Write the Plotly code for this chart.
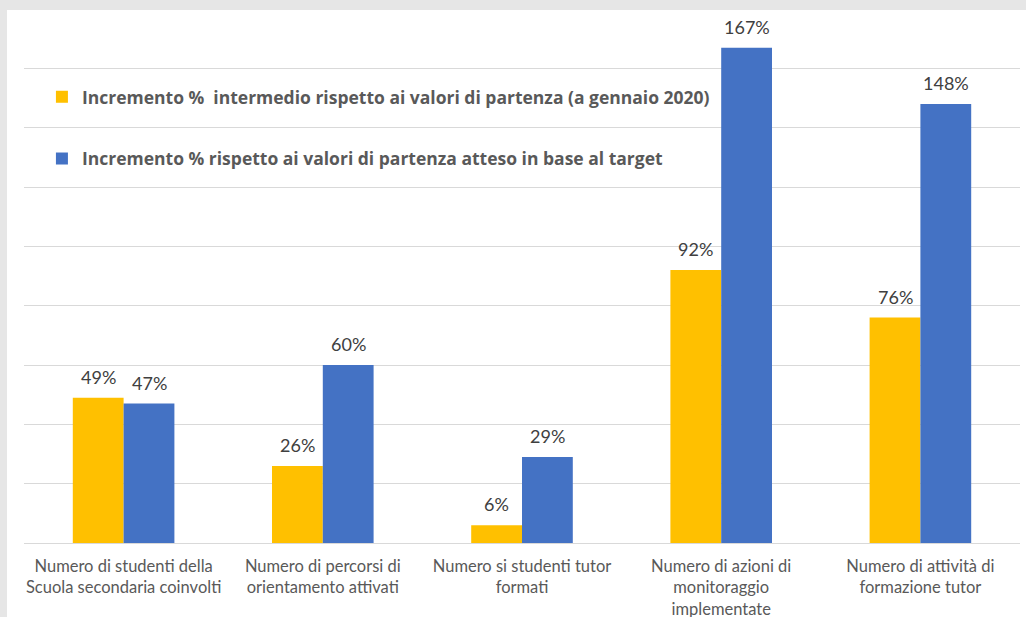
import plotly.graph_objects as go

categories = [
    "Numero di studenti della<br>Scuola secondaria coinvolti",
    "Numero di percorsi di<br>orientamento attivati",
    "Numero si studenti tutor<br>formati",
    "Numero di azioni di<br>monitoraggio<br>implementate",
    "Numero di attività di<br>formazione tutor",
]
series_names = [
    "Incremento %  intermedio rispetto ai valori di partenza (a gennaio 2020)",
    "Incremento % rispetto ai valori di partenza atteso in base al target",
]
intermedio = [49, 26, 6, 92, 76]
atteso = [47, 60, 29, 167, 148]
colors = ["#FFC000", "#4472C4"]

FONT = "Lato"
idx = list(range(len(categories)))
bargap = 0.49
half = (1 - bargap) / 4  # center offset of each bar in the group

fig = go.Figure()
for k, (name, vals) in enumerate(zip(series_names, [intermedio, atteso])):
    fig.add_trace(go.Bar(
        x=idx, y=vals, name=name, marker_color=colors[k],
        marker_line_width=0, legendgroup=f"g{k}",
    ))

annotations = []
for k, vals in enumerate([intermedio, atteso]):
    off = -half if k == 0 else half
    for i, v in zip(idx, vals):
        annotations.append(dict(
            x=i + off, y=v, xref="x", yref="y", text=f"{v}%",
            showarrow=False, yanchor="bottom", yshift=8,
            font=dict(family=FONT, size=18, color="#404040"),
        ))

fig.update_layout(
    width=1026, height=617,
    margin=dict(l=24, r=6, t=15, b=74),
    paper_bgcolor="#e6e6e6",
    plot_bgcolor="rgba(0,0,0,0)",
    barmode="group", bargap=bargap, bargroupgap=0,
    annotations=annotations,
    showlegend=True,
    legend=dict(
        x=0.018, y=0.879, xanchor="left", yanchor="top",
        orientation="v", traceorder="grouped", tracegroupgap=36,
        font=dict(family="Open Sans", size=17.5, color="#595959", weight="bold"),
        bgcolor="rgba(0,0,0,0)",
    ),
    shapes=[dict(
        type="rect", xref="paper", yref="paper", layer="below",
        x0=(7 - 24) / 996, x1=(1030 - 24) / 996,
        y0=-0.3, y1=(543 - 10) / 528,
        fillcolor="white", line_width=0,
    )],
    xaxis=dict(
        tickmode="array", tickvals=idx, ticktext=categories,
        range=[-0.5, len(categories) - 0.5], automargin=False,
        showgrid=False, showline=True, linecolor="#d9d9d9", linewidth=1,
        ticks="", tickfont=dict(family=FONT, size=16.5, color="#595959"),
        ticklabelstandoff=8,
    ),
    yaxis=dict(
        range=[0, 178], dtick=20, showgrid=True, gridcolor="#d9d9d9",
        gridwidth=1, showticklabels=False, zeroline=False, ticks="",
        automargin=False,
    ),
)

fig.write_html("out.html", post_script="document.body.style.margin='0';",
               config={"displayModeBar": False})
